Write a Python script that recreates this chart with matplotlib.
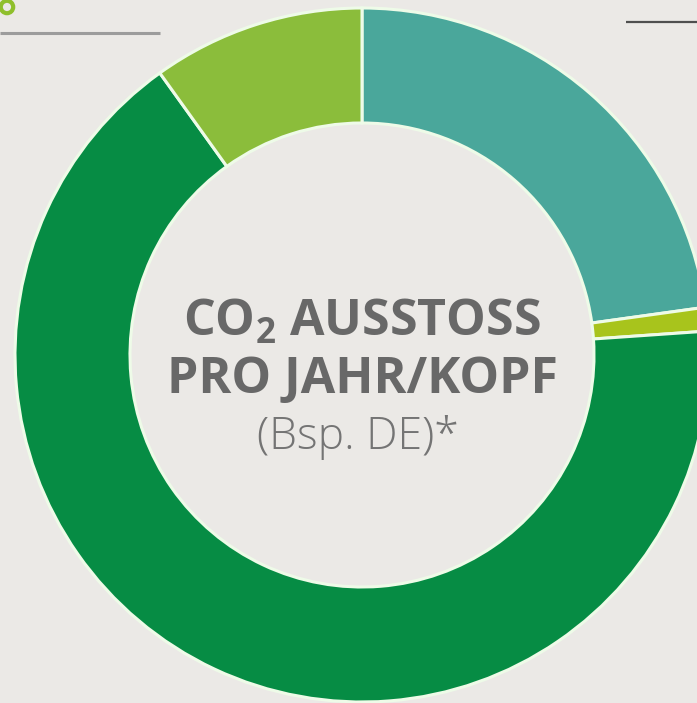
import matplotlib.pyplot as plt

# shares of the ring, clockwise from 12 o'clock (percent)
labels = ["teal", "lime", "dark green", "light green"]
shares = [22.8, 1.1, 66.2, 9.9]
colors = ["#4aa79b", "#a8c41c", "#068c44", "#8bbd3b"]

title_lines = ["CO$_2$ AUSSTOSS", "PRO JAHR/KOPF"]
sub_line = "(Bsp. DE)*"

W, H = 697, 703
fig = plt.figure(figsize=(W / 100, H / 100), dpi=100)
fig.patch.set_facecolor("#ebe9e6")
ax = fig.add_axes([0, 0, 1, 1])
ax.set_facecolor("#ebe9e6")

plt.rcParams["mathtext.default"] = "regular"

# donut, center and radius in pixel units
cx, cy = 362, H - 355
R, ring = 347, 115
ax.pie(shares, colors=colors, startangle=90, counterclock=False,
       center=(cx, cy), radius=R,
       wedgeprops=dict(width=ring, edgecolor="#eefbe8", linewidth=2.2))

ax.set_xlim(0, W)
ax.set_ylim(0, H)
ax.set_aspect("auto")
ax.axis("off")

# small decorations at the top
ax.plot([0, 160], [H - 33, H - 33], color="#9c9c9c", lw=2.2, solid_capstyle="butt")
ax.plot([626, 697], [H - 22, H - 22], color="#4f4f4f", lw=1.6, solid_capstyle="butt")
ax.scatter([7], [H - 7], s=80, facecolors="none", edgecolors="#8fbf2c", linewidths=3)

# centre text
ax.text(cx, H - 323, title_lines[0], ha="center", va="center", fontsize=36,
        fontweight="bold", family="Open Sans", color="#686868")
ax.text(cx, H - 380, title_lines[1], ha="center", va="center", fontsize=36,
        fontweight="bold", family="Open Sans", color="#686868")
ax.text(cx - 4, H - 437, sub_line, ha="center", va="center", fontsize=32,
        fontweight="light", family="Open Sans", color="#747474")

fig.savefig("out.png", dpi=100, facecolor=fig.get_facecolor())
